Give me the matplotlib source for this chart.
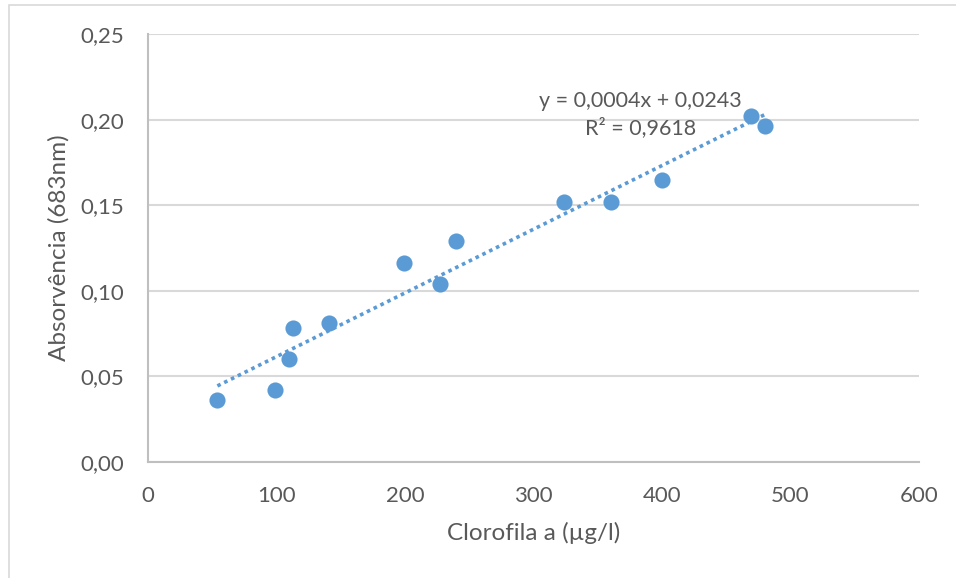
import matplotlib.pyplot as plt
import numpy as np
from matplotlib.patches import Rectangle

plt.rcParams['font.family'] = ['Lato', 'DejaVu Sans']

# chlorophyll a (ug/l) vs absorbance at 683 nm
clorofila = [54, 99, 110, 113, 141, 199, 227, 240, 324, 360, 400, 469, 480]
absorvancia = [0.036, 0.042, 0.060, 0.078, 0.081, 0.116, 0.104, 0.129,
               0.152, 0.152, 0.165, 0.202, 0.196]

x_ticks = [0, 100, 200, 300, 400, 500, 600]
y_ticks = [0.00, 0.05, 0.10, 0.15, 0.20, 0.25]

blue = '#5B9BD5'
grid_grey = '#D9D9D9'
text_grey = '#595959'

x = np.array(clorofila)
y = np.array(absorvancia)

# linear trendline + r squared
slope, intercept = np.polyfit(x, y, 1)
y_fit = slope * x + intercept
r2 = 1 - np.sum((y - y_fit) ** 2) / np.sum((y - y.mean()) ** 2)

fig = plt.figure(figsize=(9.56, 5.78), dpi=100)
ax = fig.add_axes([148 / 956, 1 - 462 / 578, (919 - 148) / 956, (462 - 34) / 578])

# chart area border
fig.add_artist(Rectangle((9 / 956, -0.1), 1.2, 1.1 - 5 / 578, transform=fig.transFigure,
                         fill=False, edgecolor=grid_grey, linewidth=1.2))

ax.scatter(x, y, s=135, color=blue, zorder=3, linewidths=0)

x_line = np.array([x.min(), x.max()])
ax.plot(x_line, slope * x_line + intercept, color=blue, linewidth=2.6,
        linestyle=(0, (1, 1.1)), zorder=4)

eq = 'y = {:.4f}x + {:.4f}'.format(slope, intercept).replace('.', ',')
r2_txt = 'R² = {:.4f}'.format(r2).replace('.', ',')
ax.text(383, 0.2109, eq, ha='center', va='center', fontsize=15.5, color=text_grey)
ax.text(383, 0.1951, r2_txt, ha='center', va='center', fontsize=15.5, color=text_grey)

ax.set_xlim(0, 600)
ax.set_ylim(0, 0.25)
ax.set_xticks(x_ticks)
ax.set_yticks(y_ticks)
ax.set_xticklabels([str(t) for t in x_ticks])
ax.set_yticklabels(['{:.2f}'.format(t).replace('.', ',') for t in y_ticks])
ax.tick_params(length=0, labelsize=16, labelcolor=text_grey)
ax.tick_params(axis='y', pad=17)
ax.tick_params(axis='x', pad=17)

ax.grid(axis='y', color=grid_grey, linewidth=1.5)
ax.set_axisbelow(True)
for side in ['top', 'right']:
    ax.spines[side].set_visible(False)
for side in ['left', 'bottom']:
    ax.spines[side].set_color('#BFBFBF')
    ax.spines[side].set_linewidth(1.5)

ax.set_xlabel('Clorofila a (µg/l)', fontsize=17.5, color=text_grey, labelpad=12)
ax.set_ylabel('Absorvência (683nm)', fontsize=17.5, color=text_grey, labelpad=8)

fig.savefig('out.png', dpi=100)
